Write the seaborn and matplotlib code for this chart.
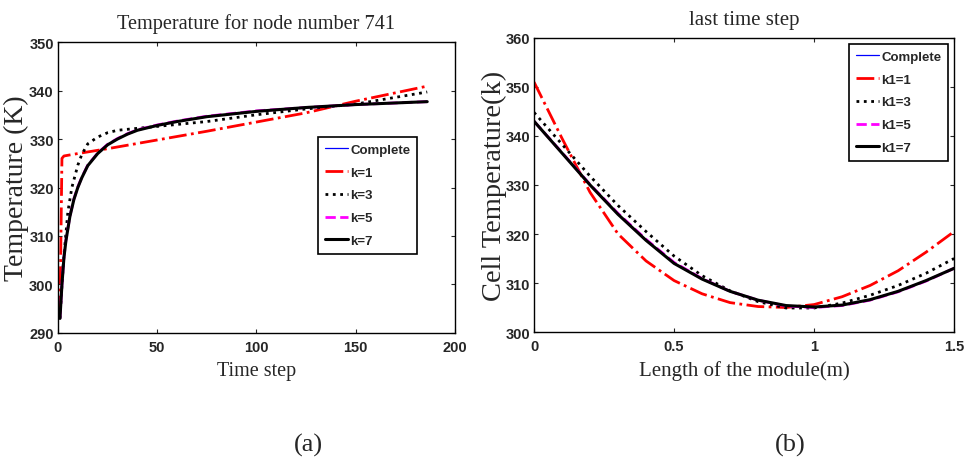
import matplotlib
matplotlib.use("Agg")
import matplotlib.pyplot as plt
import seaborn as sns
import pandas as pd

# ---------------- data: (a) Temperature for node number 741 ----------------
t_complete = [1, 2, 3, 4, 6, 8, 10, 12, 15, 20, 25, 30, 35, 40, 50, 60, 75, 100, 125, 150, 186]
T_complete = [293, 300, 305.5, 309, 314, 317.5, 320, 322, 324.5, 327, 328.8, 330, 331, 331.8,
              332.8, 333.6, 334.6, 335.7, 336.5, 337.1, 337.7]
t_k1 = [1, 2, 3, 10, 25, 50, 75, 100, 125, 150, 186]
T_k1 = [294, 326, 326.5, 327, 328, 329.8, 331.6, 333.5, 335.4, 337.8, 340.9]
t_k3 = [1, 2, 3, 5, 7, 10, 12, 15, 20, 25, 30, 40, 50, 75, 100, 125, 150, 186]
T_k3 = [293, 300, 306, 315, 320, 324.6, 326.8, 329, 330.4, 331.3, 331.8, 332.2, 332.6,
        333.6, 335, 336.2, 337.2, 339.7]
t_k5 = t_complete
T_k5 = [293, 300, 305.6, 309.1, 314.1, 317.6, 320.1, 322.1, 324.6, 327.1, 328.9, 330.1, 331.1,
        331.9, 332.9, 333.7, 334.7, 335.8, 336.5, 337.1, 337.7]
t_k7 = t_complete
T_k7 = T_complete

# ---------------- data: (b) last time step ----------------
x_len = [0, 0.1, 0.2, 0.3, 0.4, 0.5, 0.6, 0.7, 0.8, 0.9, 1.0, 1.1, 1.2, 1.3, 1.4, 1.5]
C_complete = [343, 336.5, 330, 324, 318.7, 314, 310.8, 308.3, 306.5, 305.4, 305.1, 305.5,
              306.6, 308.3, 310.5, 313]
C_k1 = [351, 339.5, 328.5, 320, 314.5, 310.5, 307.8, 306, 305.2, 305, 305.6, 307.2, 309.5,
        312.5, 316.3, 320.5]
C_k3 = [344.8, 338.3, 331.8, 325.8, 320.5, 315.5, 311.5, 308.4, 306.2, 304.9, 304.9, 305.9,
        307.5, 309.5, 312, 315]
C_k5 = [343, 336.6, 330.1, 324.2, 318.9, 314.2, 310.9, 308.3, 306.5, 305.3, 305, 305.4,
        306.5, 308.2, 310.4, 313]
C_k7 = C_complete

labels_a = ["Complete", "k=1", "k=3", "k=5", "k=7"]
labels_b = ["Complete", "k1=1", "k1=3", "k1=5", "k1=7"]

styles = [
    dict(color="#0000ff", linestyle="-", linewidth=0.9),
    dict(color="#ff0000", linestyle="-.", linewidth=2.0),
    dict(color="black", linestyle=":", linewidth=2.0),
    dict(color="#ff00ff", linestyle="--", linewidth=2.0),
    dict(color="black", linestyle="-", linewidth=2.2),
]

sns.set_style("ticks")
plt.rcParams["font.family"] = ["Liberation Sans", "DejaVu Sans"]

fig = plt.figure(figsize=(9.71, 4.64), dpi=100)
ax1 = fig.add_axes([0.0597, 0.2802, 0.4089, 0.6271])
ax2 = fig.add_axes([0.5500, 0.2823, 0.4326, 0.6337])

series_a = [(t_complete, T_complete), (t_k1, T_k1), (t_k3, T_k3), (t_k5, T_k5), (t_k7, T_k7)]
series_b = [(x_len, C_complete), (x_len, C_k1), (x_len, C_k3), (x_len, C_k5), (x_len, C_k7)]

for (xs, ys), lab, st in zip(series_a, labels_a, styles):
    df = pd.DataFrame({"x": xs, "y": ys})
    sns.lineplot(data=df, x="x", y="y", ax=ax1, label=lab, **st)
for (xs, ys), lab, st in zip(series_b, labels_b, styles):
    df = pd.DataFrame({"x": xs, "y": ys})
    sns.lineplot(data=df, x="x", y="y", ax=ax2, label=lab, **st)

serif = ["Liberation Serif", "DejaVu Serif"]

ax1.set_xlim(0, 200)
ax1.set_ylim(290, 350)
ax1.set_xticks([0, 50, 100, 150, 200])
ax1.set_yticks([290, 300, 310, 320, 330, 340, 350])
ax1.set_title("Temperature for node number 741", family=serif, fontsize=14.6, pad=10)
ax1.set_xlabel("Time step", family=serif, fontsize=14.5, labelpad=5)
ax1.set_ylabel("Temperature (K)", family=serif, fontsize=20, labelpad=0)

ax2.set_xlim(0, 1.5)
ax2.set_ylim(300, 360)
ax2.set_xticks([0, 0.5, 1, 1.5])
ax2.set_xticklabels(["0", "0.5", "1", "1.5"])
ax2.set_yticks([300, 310, 320, 330, 340, 350, 360])
ax2.set_title("last time step", family=serif, fontsize=15, pad=10)
ax2.set_xlabel("Length of the module(m)", family=serif, fontsize=15, labelpad=5)
ax2.set_ylabel("Cell Temperature(k)", family=serif, fontsize=20.5, labelpad=-1)

for ax in (ax1, ax2):
    ax.tick_params(direction="in", length=3, width=0.8, top=True, right=True,
                   labelsize=10.5)
    ax.tick_params(axis="x", pad=5)
    ax.tick_params(axis="y", pad=3)
    for lbl in ax.get_xticklabels() + ax.get_yticklabels():
        lbl.set_fontweight("bold")
    for sp in ax.spines.values():
        sp.set_visible(True)
        sp.set_linewidth(1.0)
        sp.set_color("black")
    ax.grid(False)

leg_kw = dict(loc="upper left", bbox_transform=fig.transFigure, frameon=True, fancybox=False,
              framealpha=1, edgecolor="black", handlelength=1.75, handletextpad=0.2,
              labelspacing=0.8, borderpad=0.5, borderaxespad=0,
              prop={"weight": "bold", "size": 9.5})
leg1 = ax1.legend(bbox_to_anchor=(318 / 971, 1 - 138 / 464), **leg_kw)
leg2 = ax2.legend(bbox_to_anchor=(849 / 971, 1 - 45 / 464), **leg_kw)
for leg in (leg1, leg2):
    leg.get_frame().set_linewidth(1.2)

fig.text(308 / 971, 1 - 445 / 464, "(a)", family=serif, fontsize=19, ha="center", va="center")
fig.text(790 / 971, 1 - 445 / 464, "(b)", family=serif, fontsize=19, ha="center", va="center")

fig.savefig("out.png", dpi=100)
